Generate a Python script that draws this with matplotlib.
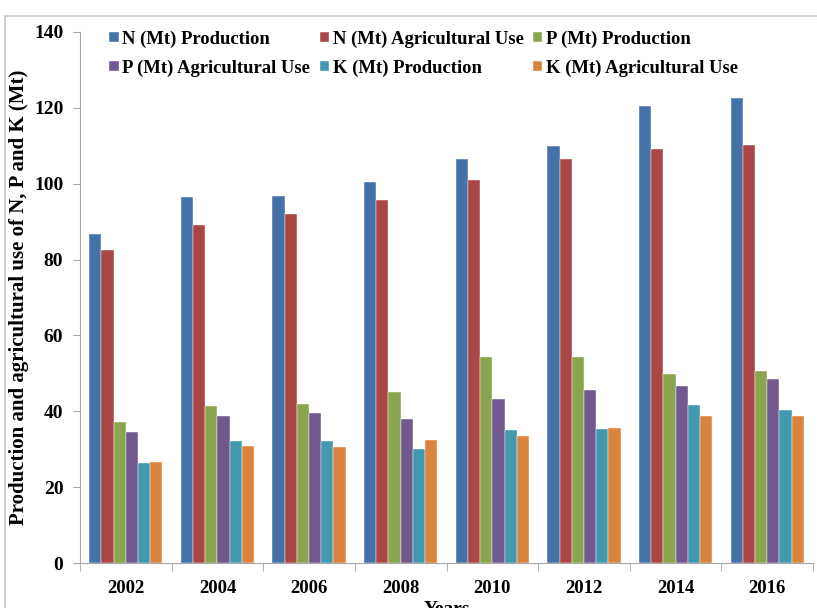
import matplotlib
matplotlib.use('Agg')
from matplotlib import pyplot as plt
from matplotlib.patches import Rectangle
import numpy as np

years = ['2002', '2004', '2006', '2008', '2010', '2012', '2014', '2016']
n_prod = [86.8, 96.6, 96.8, 100.4, 106.4, 109.9, 120.5, 122.7]
n_agri = [82.5, 89.2, 92.0, 95.7, 100.9, 106.4, 109.1, 110.3]
p_prod = [37.3, 41.3, 42.0, 45.0, 54.2, 54.4, 49.9, 50.7]
p_agri = [34.6, 38.7, 39.6, 37.9, 43.2, 45.5, 46.6, 48.5]
k_prod = [26.4, 32.2, 32.2, 30.1, 35.0, 35.2, 41.7, 40.4]
k_agri = [26.7, 30.9, 30.6, 32.3, 33.4, 35.6, 38.7, 38.8]

series = [
    ('N (Mt) Production', n_prod, '#4572a7'),
    ('N (Mt) Agricultural Use', n_agri, '#aa4643'),
    ('P (Mt) Production', p_prod, '#89a54e'),
    ('P (Mt) Agricultural Use', p_agri, '#71588f'),
    ('K (Mt) Production', k_prod, '#4198af'),
    ('K (Mt) Agricultural Use', k_agri, '#db843d'),
]

plt.rcParams['font.family'] = ['Liberation Serif', 'DejaVu Serif']
plt.rcParams['font.weight'] = 'bold'

fig = plt.figure(figsize=(8.17, 6.08), dpi=100)
# gray frame around the chart area (cut at right/bottom)
fig.patches.append(Rectangle((5 / 817, -0.05), 1.2, 1 - 16 / 608 + 0.05,
                             transform=fig.transFigure, fill=False,
                             edgecolor='#c8c8c8', linewidth=1.2))

ax = fig.add_axes([80 / 817, 1 - 563 / 608, 733 / 817, 531 / 608])

x = np.arange(len(years))
w = 0.8 / len(series)
handles = []
for i, (name, vals, col) in enumerate(series):
    b = ax.bar(x - 0.4 + w * (i + 0.5), vals, w, color=col, label=name,
               edgecolor='white', linewidth=0.3)
    handles.append(b)

ax.set_xlim(-0.5, len(years) - 0.5)
ax.set_ylim(0, 140)
ax.set_yticks(range(0, 141, 20))
ax.set_xticks(x)
ax.set_xticklabels(years)
ax.set_xticks(np.arange(-0.5, len(years)), minor=True)
ax.tick_params(axis='x', which='major', length=0, pad=12, labelsize=13.5)
ax.tick_params(axis='x', which='minor', length=6, color='#a6a6a6', direction='out')
ax.tick_params(axis='y', length=5, color='#a6a6a6', pad=7, labelsize=14)

for s in ['top', 'right']:
    ax.spines[s].set_visible(False)
for s in ['left', 'bottom']:
    ax.spines[s].set_color('#a6a6a6')

ax.set_ylabel('Production and agricultural use of N, P and K (Mt)', fontsize=15,
              fontweight='bold')
ax.yaxis.set_label_coords(-0.07, 0.5)
ax.set_xlabel('Years', fontsize=14, fontweight='bold', labelpad=3)

# legend is filled row by row in the reference
order = [0, 3, 1, 4, 2, 5]
leg = ax.legend([handles[i] for i in order], [series[i][0] for i in order],
                ncol=3, loc='upper left', bbox_to_anchor=(0.03, 1.017),
                frameon=False, fontsize=13.4, handlelength=0.5, handleheight=0.5,
                handletextpad=0.2, columnspacing=0.5, labelspacing=0.62,
                borderaxespad=0)

fig.savefig('out.png', dpi=100)
